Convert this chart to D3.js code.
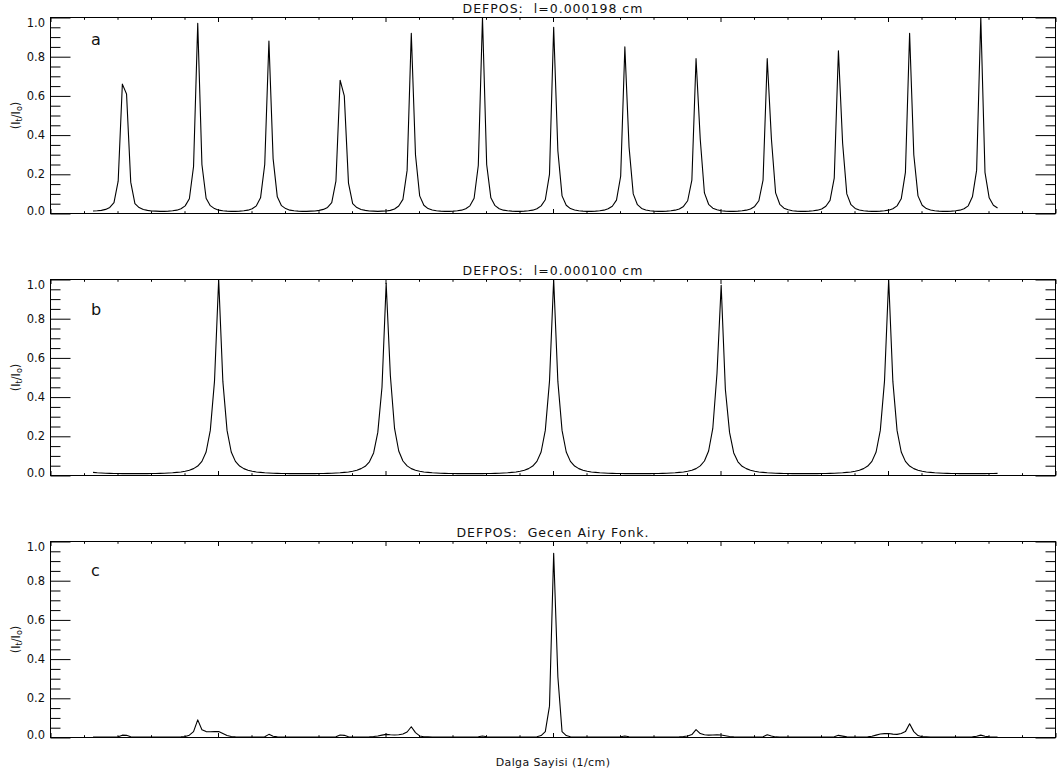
<!DOCTYPE html>
<html>
<head>
<meta charset="utf-8">
<script src="https://cdn.jsdelivr.net/npm/d3@7"></script>
<style>
  html, body { margin: 0; padding: 0; background: #fff; }
  svg { display: block; }
  text { font-family: "DejaVu Sans", sans-serif; fill: #111; }
</style>
</head>
<body>
<svg id="chart" width="1064" height="778"></svg>
<script>
// Wavenumber sampling grid (axis units) shared by the three spectra
const sigmaStart = 1.27;
const sigmaStep = 0.125;

// (a) transmission of the 0.000198 cm layer
const transA = [
  0.013, 0.014, 0.016, 0.021, 0.031, 0.055, 0.165, 0.66, 0.61, 0.16,
  0.05, 0.03, 0.02, 0.016, 0.013, 0.012, 0.011, 0.011, 0.012, 0.014,
  0.017, 0.024, 0.039, 0.075, 0.24, 0.97, 0.25, 0.078, 0.04, 0.025,
  0.017, 0.014, 0.012, 0.011, 0.011, 0.012, 0.014, 0.017, 0.024, 0.039,
  0.08, 0.25, 0.88, 0.28, 0.085, 0.04, 0.025, 0.017, 0.014, 0.012,
  0.011, 0.011, 0.012, 0.013, 0.016, 0.021, 0.031, 0.055, 0.165, 0.68,
  0.6, 0.155, 0.05, 0.03, 0.02, 0.016, 0.013, 0.012, 0.011, 0.012,
  0.013, 0.016, 0.023, 0.038, 0.072, 0.22, 0.92, 0.3, 0.09, 0.042,
  0.025, 0.018, 0.014, 0.012, 0.011, 0.011, 0.012, 0.014, 0.017, 0.024,
  0.039, 0.078, 0.245, 1.0, 0.25, 0.08, 0.04, 0.024, 0.017, 0.014,
  0.012, 0.011, 0.011, 0.012, 0.014, 0.017, 0.024, 0.039, 0.07, 0.2,
  0.95, 0.32, 0.09, 0.042, 0.025, 0.018, 0.014, 0.012, 0.011, 0.011,
  0.012, 0.014, 0.017, 0.024, 0.037, 0.068, 0.19, 0.85, 0.34, 0.1,
  0.045, 0.026, 0.018, 0.014, 0.012, 0.011, 0.011, 0.012, 0.014, 0.017,
  0.023, 0.036, 0.065, 0.17, 0.79, 0.38, 0.105, 0.047, 0.027, 0.019,
  0.014, 0.012, 0.011, 0.011, 0.012, 0.014, 0.017, 0.023, 0.036, 0.065,
  0.17, 0.79, 0.38, 0.105, 0.047, 0.027, 0.019, 0.014, 0.012, 0.011,
  0.011, 0.012, 0.014, 0.017, 0.023, 0.037, 0.067, 0.18, 0.83, 0.36,
  0.1, 0.045, 0.026, 0.018, 0.014, 0.012, 0.011, 0.011, 0.012, 0.014,
  0.017, 0.024, 0.039, 0.075, 0.21, 0.92, 0.3, 0.09, 0.042, 0.025,
  0.018, 0.014, 0.012, 0.011, 0.011, 0.012, 0.014, 0.017, 0.024, 0.039,
  0.085, 0.22, 1.0, 0.21, 0.08, 0.042, 0.028
];

// (b) transmission of the 0.000100 cm layer
const transB = [
  0.016, 0.014, 0.0128, 0.0118, 0.011, 0.0105, 0.0101, 0.0098, 0.0096, 0.0095,
  0.0095, 0.0095, 0.0096, 0.0098, 0.0101, 0.0105, 0.011, 0.0118, 0.0128, 0.014,
  0.016, 0.018, 0.022, 0.027, 0.035, 0.048, 0.072, 0.12, 0.23, 0.48,
  1.0, 0.48, 0.23, 0.12, 0.072, 0.048, 0.035, 0.027, 0.022, 0.018,
  0.016, 0.014, 0.0128, 0.0118, 0.011, 0.0105, 0.0101, 0.0098, 0.0096, 0.0095,
  0.0095, 0.0095, 0.0096, 0.0098, 0.0101, 0.0105, 0.011, 0.0118, 0.0128, 0.014,
  0.016, 0.018, 0.022, 0.027, 0.035, 0.047, 0.07, 0.115, 0.22, 0.45,
  0.98, 0.51, 0.24, 0.125, 0.074, 0.049, 0.035, 0.027, 0.022, 0.018,
  0.016, 0.014, 0.0128, 0.0118, 0.011, 0.0105, 0.0101, 0.0098, 0.0096, 0.0095,
  0.0095, 0.0095, 0.0096, 0.0098, 0.0101, 0.0105, 0.011, 0.0118, 0.0128, 0.014,
  0.016, 0.018, 0.022, 0.027, 0.035, 0.048, 0.072, 0.12, 0.23, 0.48,
  1.0, 0.48, 0.23, 0.12, 0.072, 0.048, 0.035, 0.027, 0.022, 0.018,
  0.016, 0.014, 0.0128, 0.0118, 0.011, 0.0105, 0.0101, 0.0098, 0.0096, 0.0095,
  0.0095, 0.0095, 0.0096, 0.0098, 0.0101, 0.0105, 0.011, 0.0118, 0.0128, 0.014,
  0.016, 0.018, 0.022, 0.027, 0.035, 0.049, 0.074, 0.125, 0.24, 0.52,
  0.97, 0.44, 0.22, 0.115, 0.07, 0.047, 0.035, 0.027, 0.022, 0.018,
  0.016, 0.014, 0.0128, 0.0118, 0.011, 0.0105, 0.0101, 0.0098, 0.0096, 0.0095,
  0.0095, 0.0095, 0.0096, 0.0098, 0.0101, 0.0105, 0.011, 0.0118, 0.0128, 0.014,
  0.016, 0.018, 0.022, 0.027, 0.035, 0.048, 0.072, 0.12, 0.23, 0.48,
  1.0, 0.48, 0.23, 0.12, 0.072, 0.048, 0.035, 0.027, 0.022, 0.018,
  0.016, 0.014, 0.0128, 0.0118, 0.011, 0.0105, 0.0101, 0.0098, 0.0096, 0.0095,
  0.0095, 0.0095, 0.0096, 0.0098, 0.0101, 0.0105, 0.011
];

// (c) combined (transmitted) Airy function
const transC = [
  0.002, 0.002, 0.002, 0.002, 0.002, 0.002, 0.004, 0.012, 0.011, 0.004,
  0.002, 0.002, 0.002, 0.002, 0.002, 0.002, 0.002, 0.002, 0.002, 0.002,
  0.002, 0.003, 0.005, 0.012, 0.03, 0.09, 0.04, 0.03, 0.029, 0.03,
  0.03, 0.02, 0.01, 0.005, 0.003, 0.002, 0.002, 0.002, 0.002, 0.002,
  0.002, 0.004, 0.016, 0.006, 0.003, 0.002, 0.002, 0.002, 0.002, 0.002,
  0.002, 0.002, 0.002, 0.002, 0.002, 0.002, 0.002, 0.002, 0.004, 0.013,
  0.011, 0.004, 0.002, 0.002, 0.002, 0.002, 0.003, 0.005, 0.008, 0.012,
  0.016, 0.014, 0.013, 0.014, 0.018, 0.028, 0.055, 0.025, 0.008, 0.004,
  0.003, 0.002, 0.002, 0.002, 0.002, 0.002, 0.002, 0.002, 0.002, 0.002,
  0.002, 0.002, 0.004, 0.008, 0.004, 0.002, 0.002, 0.002, 0.002, 0.002,
  0.002, 0.002, 0.002, 0.002, 0.002, 0.002, 0.004, 0.01, 0.03, 0.16,
  0.94, 0.31, 0.03, 0.01, 0.004, 0.002, 0.002, 0.002, 0.002, 0.002,
  0.002, 0.002, 0.002, 0.002, 0.002, 0.002, 0.004, 0.008, 0.004, 0.002,
  0.002, 0.002, 0.002, 0.002, 0.002, 0.002, 0.002, 0.002, 0.002, 0.002,
  0.003, 0.005, 0.008, 0.015, 0.04, 0.02, 0.014, 0.012, 0.013, 0.014,
  0.013, 0.009, 0.005, 0.003, 0.002, 0.002, 0.002, 0.002, 0.002, 0.002,
  0.004, 0.014, 0.008, 0.003, 0.002, 0.002, 0.002, 0.002, 0.002, 0.002,
  0.002, 0.002, 0.002, 0.002, 0.002, 0.002, 0.002, 0.004, 0.011, 0.007,
  0.003, 0.002, 0.002, 0.002, 0.002, 0.003, 0.006, 0.012, 0.018, 0.02,
  0.02, 0.017, 0.016, 0.02, 0.03, 0.07, 0.03, 0.01, 0.004, 0.003,
  0.002, 0.002, 0.002, 0.002, 0.002, 0.002, 0.002, 0.002, 0.002, 0.002,
  0.003, 0.006, 0.012, 0.006, 0.003, 0.002, 0.002
];

const panelTitles = ["DEFPOS:  l=0.000198 cm", "DEFPOS:  l=0.000100 cm", "DEFPOS:  Gecen Airy Fonk."];
const panelLetters = ["a", "b", "c"];
const yMajorTicks = [0.0, 0.2, 0.4, 0.6, 0.8, 1.0];
const xAxisTitle = "Dalga Sayisi (1/cm)";

// ---- layout ----
const W = 1064, H = 778;
const plotLeft = 50.5, plotRight = 1055.5, plotHeight = 196;
const panelTops = [17.5, 279.5, 541.5];
const letterBaselines = [45, 315, 576];
const xDomain = [0, 30];
const xMajorTicks = d3.range(0, 31, 5);
const xMinorTicks = d3.range(0, 31, 1).filter(v => v % 5 !== 0);
const yMinorTicks = d3.range(1, 20).map(k => k * 0.05).filter(v => Math.abs(v * 5 - Math.round(v * 5)) > 1e-6);

const series = [transA, transB, transC];
const svg = d3.select("#chart");
svg.append("rect").attr("width", W).attr("height", H).attr("fill", "#fff");

const x = d3.scaleLinear().domain(xDomain).range([plotLeft, plotRight]);

series.forEach((vals, p) => {
  const top = panelTops[p], bottom = top + plotHeight;
  const y = d3.scaleLinear().domain([0, 1]).range([bottom, top]);
  const g = svg.append("g");
  const pts = vals.map((v, i) => [sigmaStart + sigmaStep * i, v]);

  // curve
  g.append("path")
    .datum(pts)
    .attr("fill", "none")
    .attr("stroke", "#000")
    .attr("stroke-width", 1.1)
    .attr("stroke-linejoin", "round")
    .attr("d", d3.line().x(d => x(d[0])).y(d => y(d[1])));

  // left axis: major with labels, then minor
  const left = g.append("g").attr("transform", `translate(${plotLeft},0)`)
    .call(d3.axisLeft(y).tickValues(yMajorTicks).tickSize(-20).tickPadding(5.5)
      .tickFormat(d3.format(".1f")));
  left.selectAll("text")
    .style("font-size", "11.5px")
    .attr("y", d => {
      const py = y(d);
      const c = Math.min(Math.max(py, top + 5.8), bottom - 3);
      return c - py;
    });
  g.append("g").attr("transform", `translate(${plotLeft},0)`)
    .call(d3.axisLeft(y).tickValues(yMinorTicks).tickSize(-10).tickFormat(""));

  // right axis ticks
  g.append("g").attr("transform", `translate(${plotRight},0)`)
    .call(d3.axisRight(y).tickValues(yMajorTicks).tickSize(-20).tickFormat(""));
  g.append("g").attr("transform", `translate(${plotRight},0)`)
    .call(d3.axisRight(y).tickValues(yMinorTicks).tickSize(-10).tickFormat(""));

  // bottom and top axis ticks (no labels)
  g.append("g").attr("transform", `translate(0,${bottom})`)
    .call(d3.axisBottom(x).tickValues(xMajorTicks).tickSize(-4.5).tickFormat(""));
  g.append("g").attr("transform", `translate(0,${bottom})`)
    .call(d3.axisBottom(x).tickValues(xMinorTicks).tickSize(-2.3).tickFormat(""));
  g.append("g").attr("transform", `translate(0,${top})`)
    .call(d3.axisTop(x).tickValues(xMajorTicks).tickSize(-4.5).tickFormat(""));
  g.append("g").attr("transform", `translate(0,${top})`)
    .call(d3.axisTop(x).tickValues(xMinorTicks).tickSize(-2.3).tickFormat(""));

  g.selectAll(".domain").remove();
  g.selectAll(".tick line").attr("stroke", "#000").attr("stroke-width", 1);

  // frame
  g.append("rect")
    .attr("x", plotLeft).attr("y", top)
    .attr("width", plotRight - plotLeft).attr("height", plotHeight)
    .attr("fill", "none").attr("stroke", "#000").attr("stroke-width", 1);

  // title
  g.append("text")
    .attr("x", (plotLeft + plotRight) / 2)
    .attr("y", top - 4.8)
    .attr("text-anchor", "middle")
    .style("font-size", "12.5px")
    .style("letter-spacing", "1px")
    .style("white-space", "pre")
    .text(panelTitles[p]);

  // panel letter
  g.append("text")
    .attr("x", 91)
    .attr("y", letterBaselines[p])
    .style("font-size", "16px")
    .text(panelLetters[p]);

  // y axis title
  const yt = g.append("text")
    .attr("transform", `translate(19.5,${top + plotHeight / 2}) rotate(-90)`)
    .attr("text-anchor", "middle")
    .style("font-size", "11.5px");
  yt.append("tspan").text("(I");
  yt.append("tspan").attr("baseline-shift", "-25%").style("font-size", "8px").text("t");
  yt.append("tspan").text("/I");
  yt.append("tspan").attr("baseline-shift", "-25%").style("font-size", "8px").text("o");
  yt.append("tspan").text(")");
});

// x axis title
svg.append("text")
  .attr("x", (plotLeft + plotRight) / 2)
  .attr("y", 766)
  .attr("text-anchor", "middle")
  .style("font-size", "11px")
  .style("letter-spacing", "0.4px")
  .text(xAxisTitle);
</script>
</body>
</html>
